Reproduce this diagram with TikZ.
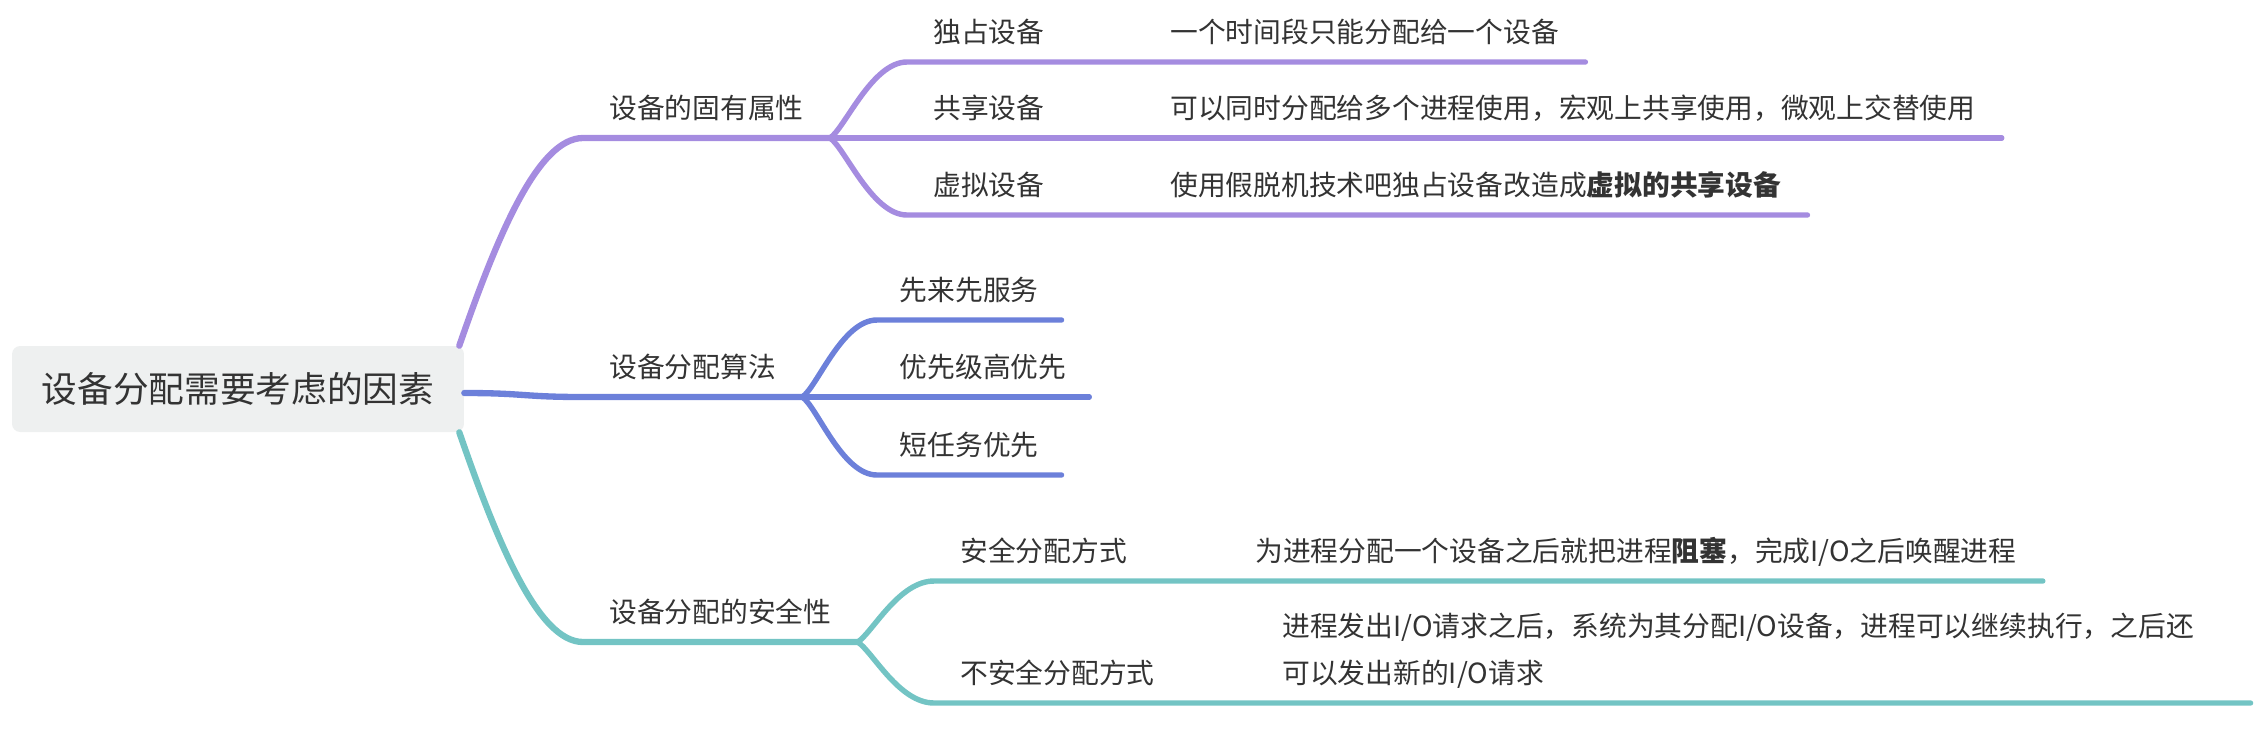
\documentclass[tikz,border=0pt]{standalone}
\usepackage{fontspec}
\usepackage{tikz}
\usepackage{color}
\newfontfamily\cjk{Noto Sans CJK SC}
\definecolor{purp}{RGB}{165,140,224}
\definecolor{blu}{RGB}{108,128,218}
\definecolor{tea}{RGB}{115,196,196}
\definecolor{rootgray}{RGB}{238,240,240}
\definecolor{txt}{RGB}{51,51,51}

\begin{document}
\begin{tikzpicture}[x=0.02cm,y=-0.02cm,line cap=round,line join=round,
    rootbox/.style={fill=rootgray,rounded corners=0.16cm,minimum width=9.04cm,minimum height=1.72cm,
      inner sep=0,text=txt,font=\cjk\fontsize{20.3}{24}\selectfont},
    lab/.style={anchor=south west,inner xsep=0.52cm,inner ysep=0.39cm,text depth=0pt,
      text=txt,font=\cjk\fontsize{15.8}{19}\selectfont},
    mainline/.style={line width=3.6pt},
    subline/.style={line width=3.1pt}]
        \useasboundingbox (0,0) rectangle (2260,748);
        \node[rootbox] (root) at (238,389) {设备分配需要考虑的因素};
        % first level
        \node[lab] (p) at (583,138) {设备的固有属性};
        \node[lab] (b) at (583,397) {设备分配算法};
        \node[lab] (t) at (583,642) {设备分配的安全性};
        % purple leaves
        \node[lab] (p1) at (907,62) {独占设备};
        \node[lab] (p2) at (907,138) {共享设备};
        \node[lab] (p3) at (907,215) {虚拟设备};
        \node[lab] (p1d) at (1144,62) {一个时间段只能分配给一个设备};
        \node[lab] (p2d) at (1144,138) {可以同时分配给多个进程使用，宏观上共享使用，微观上交替使用};
        \node[lab] (p3d) at (1144,215) {使用假脱机技术吧独占设备改造成\textbf{虚拟的共享设备}};
        % blue leaves
        \node[lab,inner xsep=0.45cm] (b1) at (877,320) {先来先服务};
        \node[lab,inner xsep=0.45cm] (b2) at (877,397) {优先级高优先};
        \node[lab,inner xsep=0.45cm] (b3) at (877,475) {短任务优先};
        % teal leaves
        \node[lab] (t1) at (934,581) {安全分配方式};
        \node[lab] (t2) at (934,703) {不安全分配方式};
        \node[lab] (t1d) at (1229,581) {为进程分配一个设备之后就把进程\textbf{阻塞}，完成I/O之后唤醒进程};
        \node[lab,text width=18.84cm,align=left,text depth=0.94cm,font=\cjk\fontsize{15.8}{26.7}\selectfont] (t2d) at (1256,703)
          {进程发出I/O请求之后，系统为其分配I/O设备，进程可以继续执行，之后还\\可以发出新的I/O请求};

        % root to first level
        \draw[mainline,purp] ([xshift=-0.1cm]root.north east) .. controls +(38,-110) and +(-45,0) .. (p.south west) -- (p.south east);
        \draw[mainline,blu] ([yshift=-0.08cm]root.east) .. controls +(60,0) and +(-60,0) .. (b.south west) -- (b.south east);
        \draw[mainline,tea] ([xshift=-0.1cm]root.south east) .. controls +(38,110) and +(-45,0) .. (t.south west) -- (t.south east);

        % purple branch
        \draw[subline,purp] (p.south east) .. controls +(15,-10) and +(-35,0) .. (p1.south west) -- (p1d.south east);
        \draw[subline,purp] (p.south east) -- (p2.south west) -- (p2d.south east);
        \draw[subline,purp] (p.south east) .. controls +(15,10) and +(-35,0) .. (p3.south west) -- (p3d.south east);
        % blue branch
        \draw[subline,blu] (b.south east) .. controls +(15,-10) and +(-35,0) .. (b1.south west) -- (b1.south east);
        \draw[subline,blu] (b.south east) -- (b2.south west) -- (b2.south east);
        \draw[subline,blu] (b.south east) .. controls +(15,10) and +(-35,0) .. (b3.south west) -- (b3.south east);
        % teal branch
        \draw[subline,tea] (t.south east) .. controls +(15,-10) and +(-35,0) .. (t1.south west) -- (t1d.south east);
        \draw[subline,tea] (t.south east) .. controls +(15,10) and +(-35,0) .. (t2.south west) -- (t2d.south east);
      \end{tikzpicture}
\end{document}
